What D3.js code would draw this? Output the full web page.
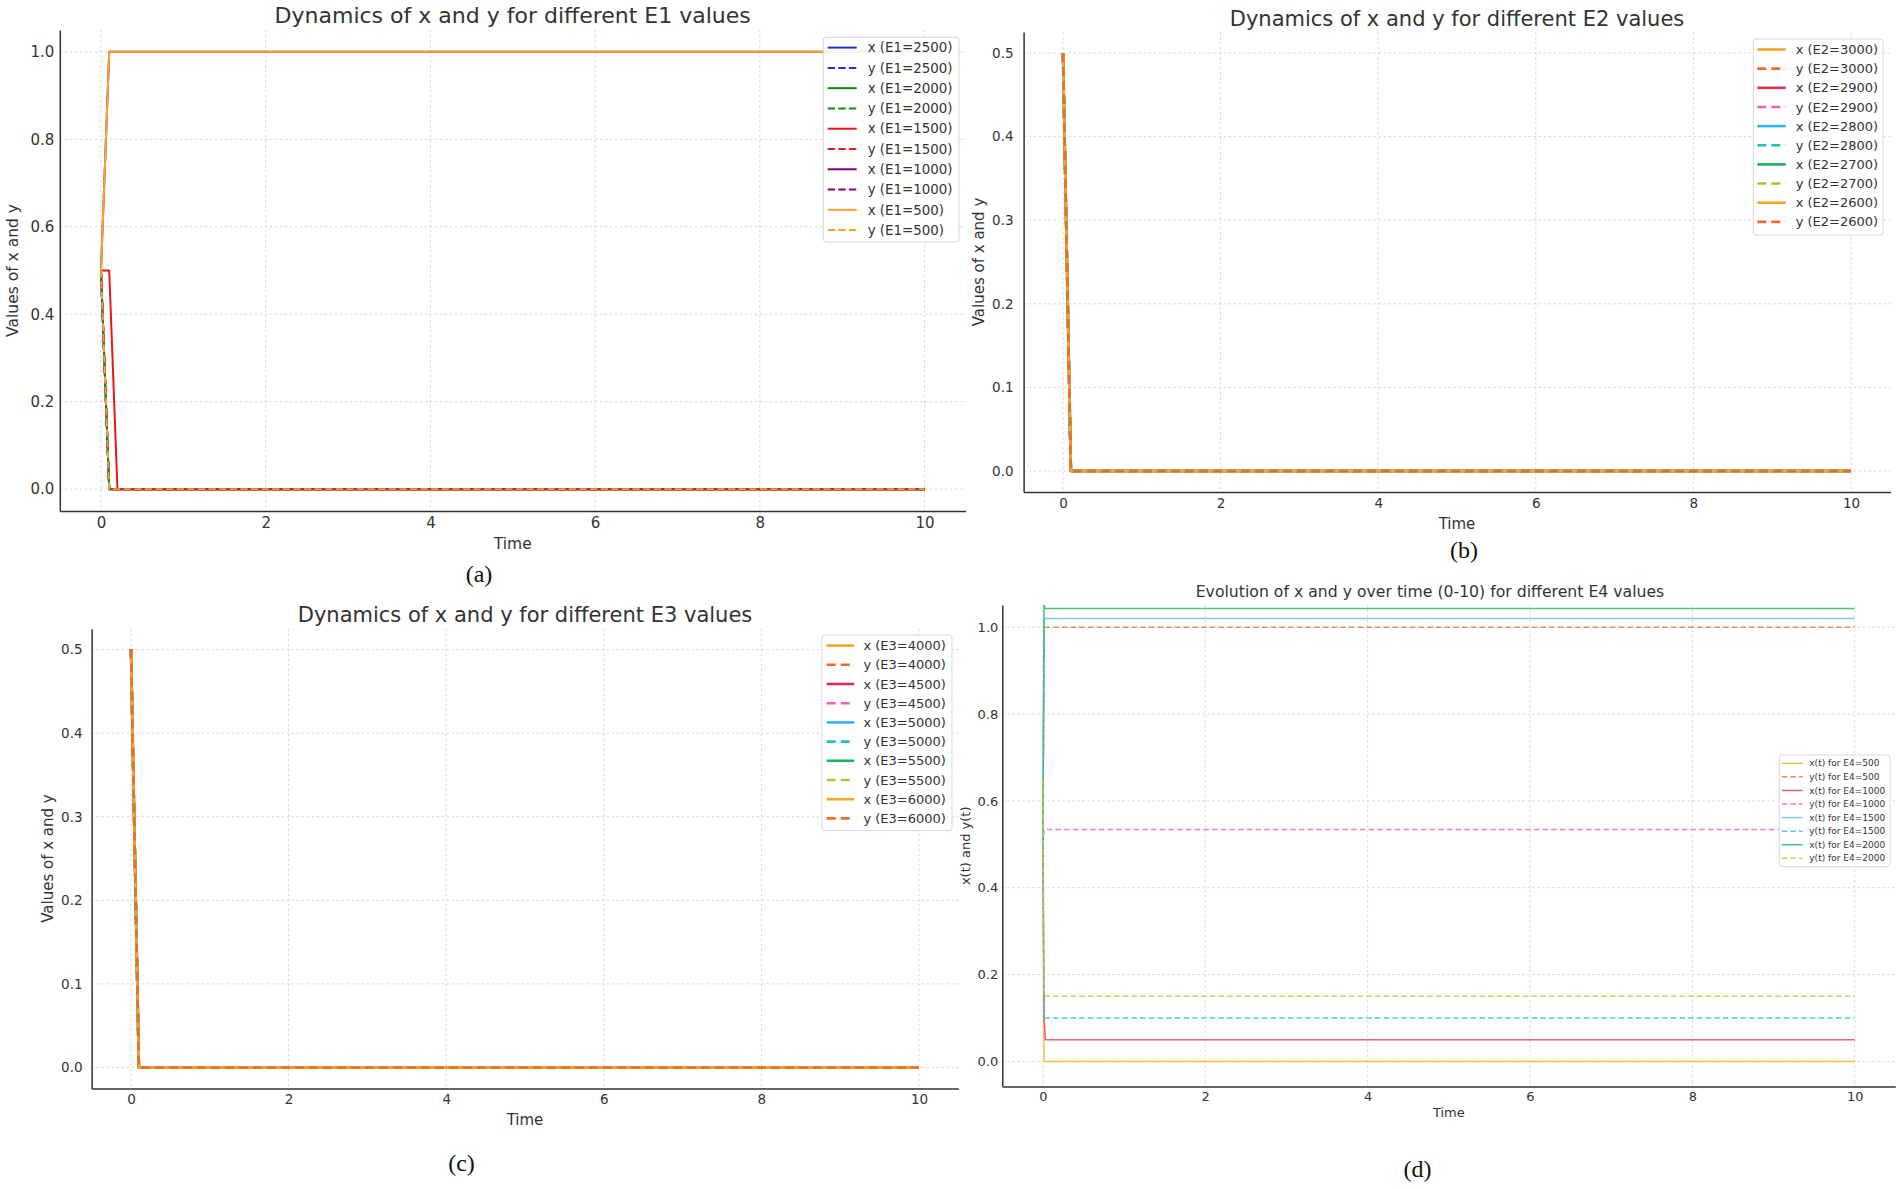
<!DOCTYPE html>
<html>
<head>
<meta charset="utf-8">
<script src="https://cdn.jsdelivr.net/npm/d3@7"></script>
<style>
  body { margin: 0; background: #fff; }
  svg text { font-family: "DejaVu Sans", sans-serif; fill: #333; }
  svg text.sub { font-family: "Liberation Serif", serif; fill: #111; }
</style>
</head>
<body>
<svg id="fig" width="1902" height="1189"></svg>
<script>
// ---- data ----
const xTicks = [0, 2, 4, 6, 8, 10];
const yTicksUnit = [0, 0.2, 0.4, 0.6, 0.8, 1.0];
const yTicksHalf = [0, 0.1, 0.2, 0.3, 0.4, 0.5];

// (a) E1
const timeA = [0, 0.1, 0.2, 10];
const e1Values = [2500, 2000, 1500, 1000, 500];
const xE1 = [[0.5, 0, 0, 0], [0.5, 0, 0, 0], [0.5, 0.5, 0, 0], [0.5, 1, 1, 1], [0.5, 1, 1, 1]];
const yE1 = [[0.5, 0, 0, 0], [0.5, 0, 0, 0], [0.5, 0, 0, 0], [0.5, 0, 0, 0], [0.5, 0, 0, 0]];
const xColorsA = ['#2030d0', '#138a13', '#e41a1c', '#800080', '#f7a62a'];
const yColorsA = ['#2030d0', '#138a13', '#e41a1c', '#800080', '#f7a62a'];

// (b) E2
const timeB = [0, 0.1, 10];
const e2Values = [3000, 2900, 2800, 2700, 2600];
const xE2 = [[0.5, 0, 0], [0.5, 0, 0], [0.5, 0, 0], [0.5, 0, 0], [0.5, 0, 0]];
const yE2 = [[0.5, 0, 0], [0.5, 0, 0], [0.5, 0, 0], [0.5, 0, 0], [0.5, 0, 0]];

// (c) E3
const timeC = [0, 0.1, 10];
const e3Values = [4000, 4500, 5000, 5500, 6000];
const xE3 = [[0.5, 0, 0], [0.5, 0, 0], [0.5, 0, 0], [0.5, 0, 0], [0.5, 0, 0]];
const yE3 = [[0.5, 0, 0], [0.5, 0, 0], [0.5, 0, 0], [0.5, 0, 0], [0.5, 0, 0]];

const xColorsBC = ['#f6a623', '#dc2e55', '#35b3e6', '#1ab35a', '#f6a623'];
const yColorsBC = ['#ee6b2f', '#f35ec6', '#1fc2c2', '#a2c932', '#ee6b2f'];

// (d) E4
const timeD = [0, 0.015, 0.03, 10];
const e4Values = [500, 1000, 1500, 2000];
const xE4 = [[0.5, 0, 0, 0], [0.5, 0.1, 0.05, 0.05], [0.5, 1.02, 1.02, 1.02], [0.5, 1.05, 1.043, 1.043]];
const yE4 = [[0.5, 1, 1, 1], [0.5, 0.534, 0.534, 0.534], [0.5, 0.1, 0.1, 0.1], [0.65, 0.15, 0.15, 0.15]];
const xColorsD = ['#f7b731', '#e9506c', '#6ec4e2', '#37bd6f'];
const yColorsD = ['#e8834d', '#f06ecb', '#3ccaca', '#bdd146'];

// build legend-ordered series (x then y for each parameter value)
function buildSeries(values, xs, ys, xCols, yCols, xLabel, yLabel) {
  let out = [];
  values.forEach((v, i) => {
    out.push({label: xLabel(v), values: xs[i], color: xCols[i], dashed: false});
    out.push({label: yLabel(v), values: ys[i], color: yCols[i], dashed: true});
  });
  return out;
}

const panels = [
  {
    time: timeA,
    series: buildSeries(e1Values, xE1, yE1, xColorsA, yColorsA, v => `x (E1=${v})`, v => `y (E1=${v})`),
    left: 59.8, right: 965.7, top: 30, bottom: 511,
    xDomain: [-0.5, 10.5], yDomain: [-0.05, 1.05], yTicks: yTicksUnit,
    tickFont: 15, labelFont: 15.5, xPad: 6.8, yPad: 5.5,
    title: {text: 'Dynamics of x and y for different E1 values', x: 512.7, y: 22.7, size: 22},
    xLabel: {text: 'Time', y: 549.3}, yLabel: {text: 'Values of x and y', x: 17.5},
    sub: {text: '(a)', x: 479, y: 582},
    lw: 2, dash: '7.4,3.2',
    legend: {x0: 823.3, x1: 959, y0: 37.3, y1: 242, row0: 47.6, step: 20.28, h0: 827.7, h1: 856.7, tx: 867.7, font: 13.4}
  },
  {
    time: timeB,
    series: buildSeries(e2Values, xE2, yE2, xColorsBC, yColorsBC, v => `x (E2=${v})`, v => `y (E2=${v})`),
    left: 1023.6, right: 1890.4, top: 32.1, bottom: 491.9,
    xDomain: [-0.5, 10.5], yDomain: [-0.025, 0.525], yTicks: yTicksHalf,
    tickFont: 13.5, labelFont: 15, xPad: 6.4, yPad: 10,
    title: {text: 'Dynamics of x and y for different E2 values', x: 1457, y: 26.3, size: 21},
    xLabel: {text: 'Time', y: 528.6}, yLabel: {text: 'Values of x and y', x: 983.9},
    sub: {text: '(b)', x: 1464, y: 558},
    lw: 2.6, dash: '9,5',
    legend: {x0: 1753.3, x1: 1883, y0: 39, y1: 235, row0: 49.5, step: 19.15, h0: 1757.3, h1: 1785.7, tx: 1795.7, font: 13}
  },
  {
    time: timeC,
    series: buildSeries(e3Values, xE3, yE3, xColorsBC, yColorsBC, v => `x (E3=${v})`, v => `y (E3=${v})`),
    left: 91.6, right: 958.4, top: 628.7, bottom: 1088.4,
    xDomain: [-0.5, 10.5], yDomain: [-0.025, 0.525], yTicks: yTicksHalf,
    tickFont: 13.5, labelFont: 15, xPad: 5.9, yPad: 9,
    title: {text: 'Dynamics of x and y for different E3 values', x: 525, y: 621.8, size: 21},
    xLabel: {text: 'Time', y: 1124.6}, yLabel: {text: 'Values of x and y', x: 52.6},
    sub: {text: '(c)', x: 461.5, y: 1171},
    lw: 2.6, dash: '9,5',
    legend: {x0: 822, x1: 952, y0: 635, y1: 830.6, row0: 645.6, step: 19.2, h0: 826.7, h1: 854.2, tx: 863.4, font: 13}
  },
  {
    time: timeD,
    series: buildSeries(e4Values, xE4, yE4, xColorsD, yColorsD, v => `x(t) for E4=${v}`, v => `y(t) for E4=${v}`),
    left: 1002.3, right: 1895.3, top: 605, bottom: 1086.6,
    xDomain: [-0.5, 10.5], yDomain: [-0.058, 1.051], yTicks: yTicksUnit,
    tickFont: 13, labelFont: 13, xPad: 4.9, yPad: 4,
    title: {text: 'Evolution of x and y over time (0-10) for different E4 values', x: 1430, y: 596.7, size: 15.7},
    xLabel: {text: 'Time', y: 1117.2}, yLabel: {text: 'x(t) and y(t)', x: 969.9},
    sub: {text: '(d)', x: 1417.5, y: 1177},
    lw: 1.5, dash: '5.5,3.2', opacity: 0.9,
    legend: {x0: 1779.3, x1: 1890, y0: 755, y1: 866.7, row0: 763.3, step: 13.57, h0: 1781.7, h1: 1802.7, tx: 1809.3, font: 9}
  }
];

const svg = d3.select('#fig');

function drawPanel(p) {
  const x = d3.scaleLinear().domain(p.xDomain).range([p.left, p.right]);
  const y = d3.scaleLinear().domain(p.yDomain).range([p.bottom, p.top]);
  const g = svg.append('g');

  // grid
  g.append('g').selectAll('line').data(xTicks).join('line')
    .attr('x1', d => x(d)).attr('x2', d => x(d))
    .attr('y1', p.top).attr('y2', p.bottom)
    .attr('stroke', '#d2d2d2').attr('stroke-width', 0.9).attr('stroke-dasharray', '2.5,2.5');
  g.append('g').selectAll('line').data(p.yTicks).join('line')
    .attr('x1', p.left).attr('x2', p.right)
    .attr('y1', d => y(d)).attr('y2', d => y(d))
    .attr('stroke', '#d2d2d2').attr('stroke-width', 0.9).attr('stroke-dasharray', '2.5,2.5');

  // series
  const line = d3.line().x(d => x(d[0])).y(d => y(d[1]));
  p.series.forEach(s => {
    g.append('path')
      .datum(p.time.map((t, i) => [t, s.values[i]]))
      .attr('d', line)
      .attr('fill', 'none')
      .attr('stroke', s.color)
      .attr('stroke-opacity', p.opacity || 1)
      .attr('stroke-width', p.lw)
      .attr('stroke-linejoin', 'round')
      .attr('stroke-dasharray', s.dashed ? p.dash : null);
  });

  // axes
  const xAxis = d3.axisBottom(x).tickValues(xTicks).tickFormat(d3.format('d'))
    .tickSize(0).tickPadding(p.xPad);
  const xg = g.append('g').attr('transform', `translate(0,${p.bottom})`).call(xAxis)
    .attr('font-size', p.tickFont).attr('font-family', 'DejaVu Sans').style('color', '#333');
  xg.select('.domain').attr('stroke-width', 1.5);

  const yAxis = d3.axisLeft(y).tickValues(p.yTicks).tickFormat(d3.format('.1f'))
    .tickSize(0).tickPadding(p.yPad);
  const yg = g.append('g').attr('transform', `translate(${p.left},0)`).call(yAxis)
    .attr('font-size', p.tickFont).attr('font-family', 'DejaVu Sans').style('color', '#333');
  yg.select('.domain').attr('stroke-width', 1.5);

  // labels
  g.append('text').attr('x', p.title.x).attr('y', p.title.y)
    .attr('text-anchor', 'middle').attr('font-size', p.title.size).text(p.title.text);
  g.append('text').attr('x', (p.left + p.right) / 2).attr('y', p.xLabel.y)
    .attr('text-anchor', 'middle').attr('font-size', p.labelFont).text(p.xLabel.text);
  g.append('text')
    .attr('transform', `translate(${p.yLabel.x},${(p.top + p.bottom) / 2}) rotate(-90)`)
    .attr('text-anchor', 'middle').attr('font-size', p.labelFont).text(p.yLabel.text);
  g.append('text').attr('class', 'sub').attr('x', p.sub.x).attr('y', p.sub.y)
    .attr('text-anchor', 'middle').attr('font-size', 24).text(p.sub.text);

  // legend
  const L = p.legend;
  const lg = g.append('g');
  lg.append('rect')
    .attr('x', L.x0).attr('y', L.y0)
    .attr('width', L.x1 - L.x0).attr('height', L.y1 - L.y0)
    .attr('rx', 3).attr('fill', '#fff').attr('fill-opacity', 0.85)
    .attr('stroke', '#d8d8d8').attr('stroke-width', 1);
  p.series.forEach((s, i) => {
    const cy = L.row0 + i * L.step;
    lg.append('line')
      .attr('x1', L.h0).attr('x2', L.h1).attr('y1', cy).attr('y2', cy)
      .attr('stroke', s.color).attr('stroke-opacity', p.opacity || 1)
      .attr('stroke-width', p.lw)
      .attr('stroke-dasharray', s.dashed ? p.dash : null);
    lg.append('text').attr('x', L.tx).attr('y', cy).attr('dy', '0.35em')
      .attr('font-size', L.font).text(s.label);
  });
}

panels.forEach(drawPanel);
</script>
</body>
</html>
